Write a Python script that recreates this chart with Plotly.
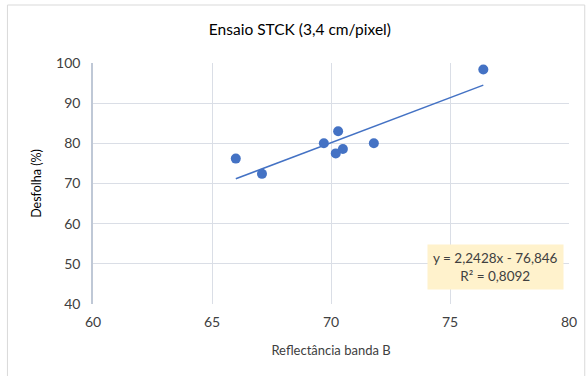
import plotly.graph_objects as go

# Data
reflectancia = [66.0, 67.1, 69.7, 70.3, 70.2, 70.5, 71.8, 76.4]
desfolha = [76.2, 72.4, 80.0, 83.0, 77.5, 78.6, 80.0, 98.4]

# Linear trendline as reported on the chart
slope = 2.2428
intercept = -76.846
r2 = 0.8092

x_ticks = [60, 65, 70, 75, 80]
y_ticks = [40, 50, 60, 70, 80, 90, 100]

trend_x = [min(reflectancia), max(reflectancia)]
trend_y = [slope * x + intercept for x in trend_x]

font = "Lato, Calibri, 'Open Sans', sans-serif"
W, H = 588, 376
ml, mr, mt, mb = 93, 11, 63, 72
pw, ph = W - ml - mr, H - mt - mb

fig = go.Figure()
fig.add_trace(go.Scatter(
    x=trend_x, y=trend_y, mode="lines",
    line=dict(color="#4472C4", width=1.5),
    hoverinfo="skip", showlegend=False,
))
fig.add_trace(go.Scatter(
    x=reflectancia, y=desfolha, mode="markers",
    marker=dict(color="#4472C4", size=10),
    showlegend=False,
))

eq = f"y = {slope:.4f}x - {abs(intercept):.3f}".replace(".", ",")
r2_txt = f"R² = {r2:.4f}".replace(".", ",")
fig.add_annotation(
    x=76.9, y=49.3, xref="x", yref="y",
    text=f"{eq}<br>{r2_txt}", showarrow=False,
    font=dict(family=font, size=13.5, color="#404040"),
    bgcolor="#FFF2CC", borderpad=5, align="center",
)

# outer chart border
fig.add_shape(
    type="rect", xref="paper", yref="paper",
    x0=(6 - ml) / pw, x1=(W + 5 - ml) / pw,
    y0=(H - (H + 5) - mb) / ph, y1=(H - 5 - mb) / ph,
    line=dict(color="#D9D9D9", width=1), layer="below",
)

fig.update_layout(
    width=W, height=H,
    margin=dict(l=ml, r=mr, t=mt, b=mb),
    paper_bgcolor="white", plot_bgcolor="white",
    title=dict(text="Ensaio STCK (3,4 cm/pixel)", x=0.51, xanchor="center",
               y=1 - 30 / H, yanchor="middle",
               font=dict(family=font, size=15.5, color="#000000")),
    font=dict(family=font, size=14, color="#404040"),
    xaxis=dict(
        range=[60, 80], tickvals=x_ticks, showgrid=True, gridcolor="#DADEE6",
        zeroline=False, showline=False, ticks="", ticklabelstandoff=8,
        title=dict(text="Reflectância banda B", standoff=16,
                   font=dict(family=font, size=13, color="#404040")),
    ),
    yaxis=dict(
        range=[40, 100], tickvals=y_ticks, showgrid=True, gridcolor="#DADEE6",
        zeroline=False, showline=True, linecolor="#BFC8D6", linewidth=1.5,
        ticks="", ticklabelstandoff=8,
        title=dict(text="Desfolha (%)", standoff=12,
                   font=dict(family=font, size=12.5, color="#000000")),
    ),
)

# remove the default page margin so the figure sits at the window origin
fig.write_html("out.html", config={"displayModeBar": False},
               post_script="document.body.style.margin='0';")
